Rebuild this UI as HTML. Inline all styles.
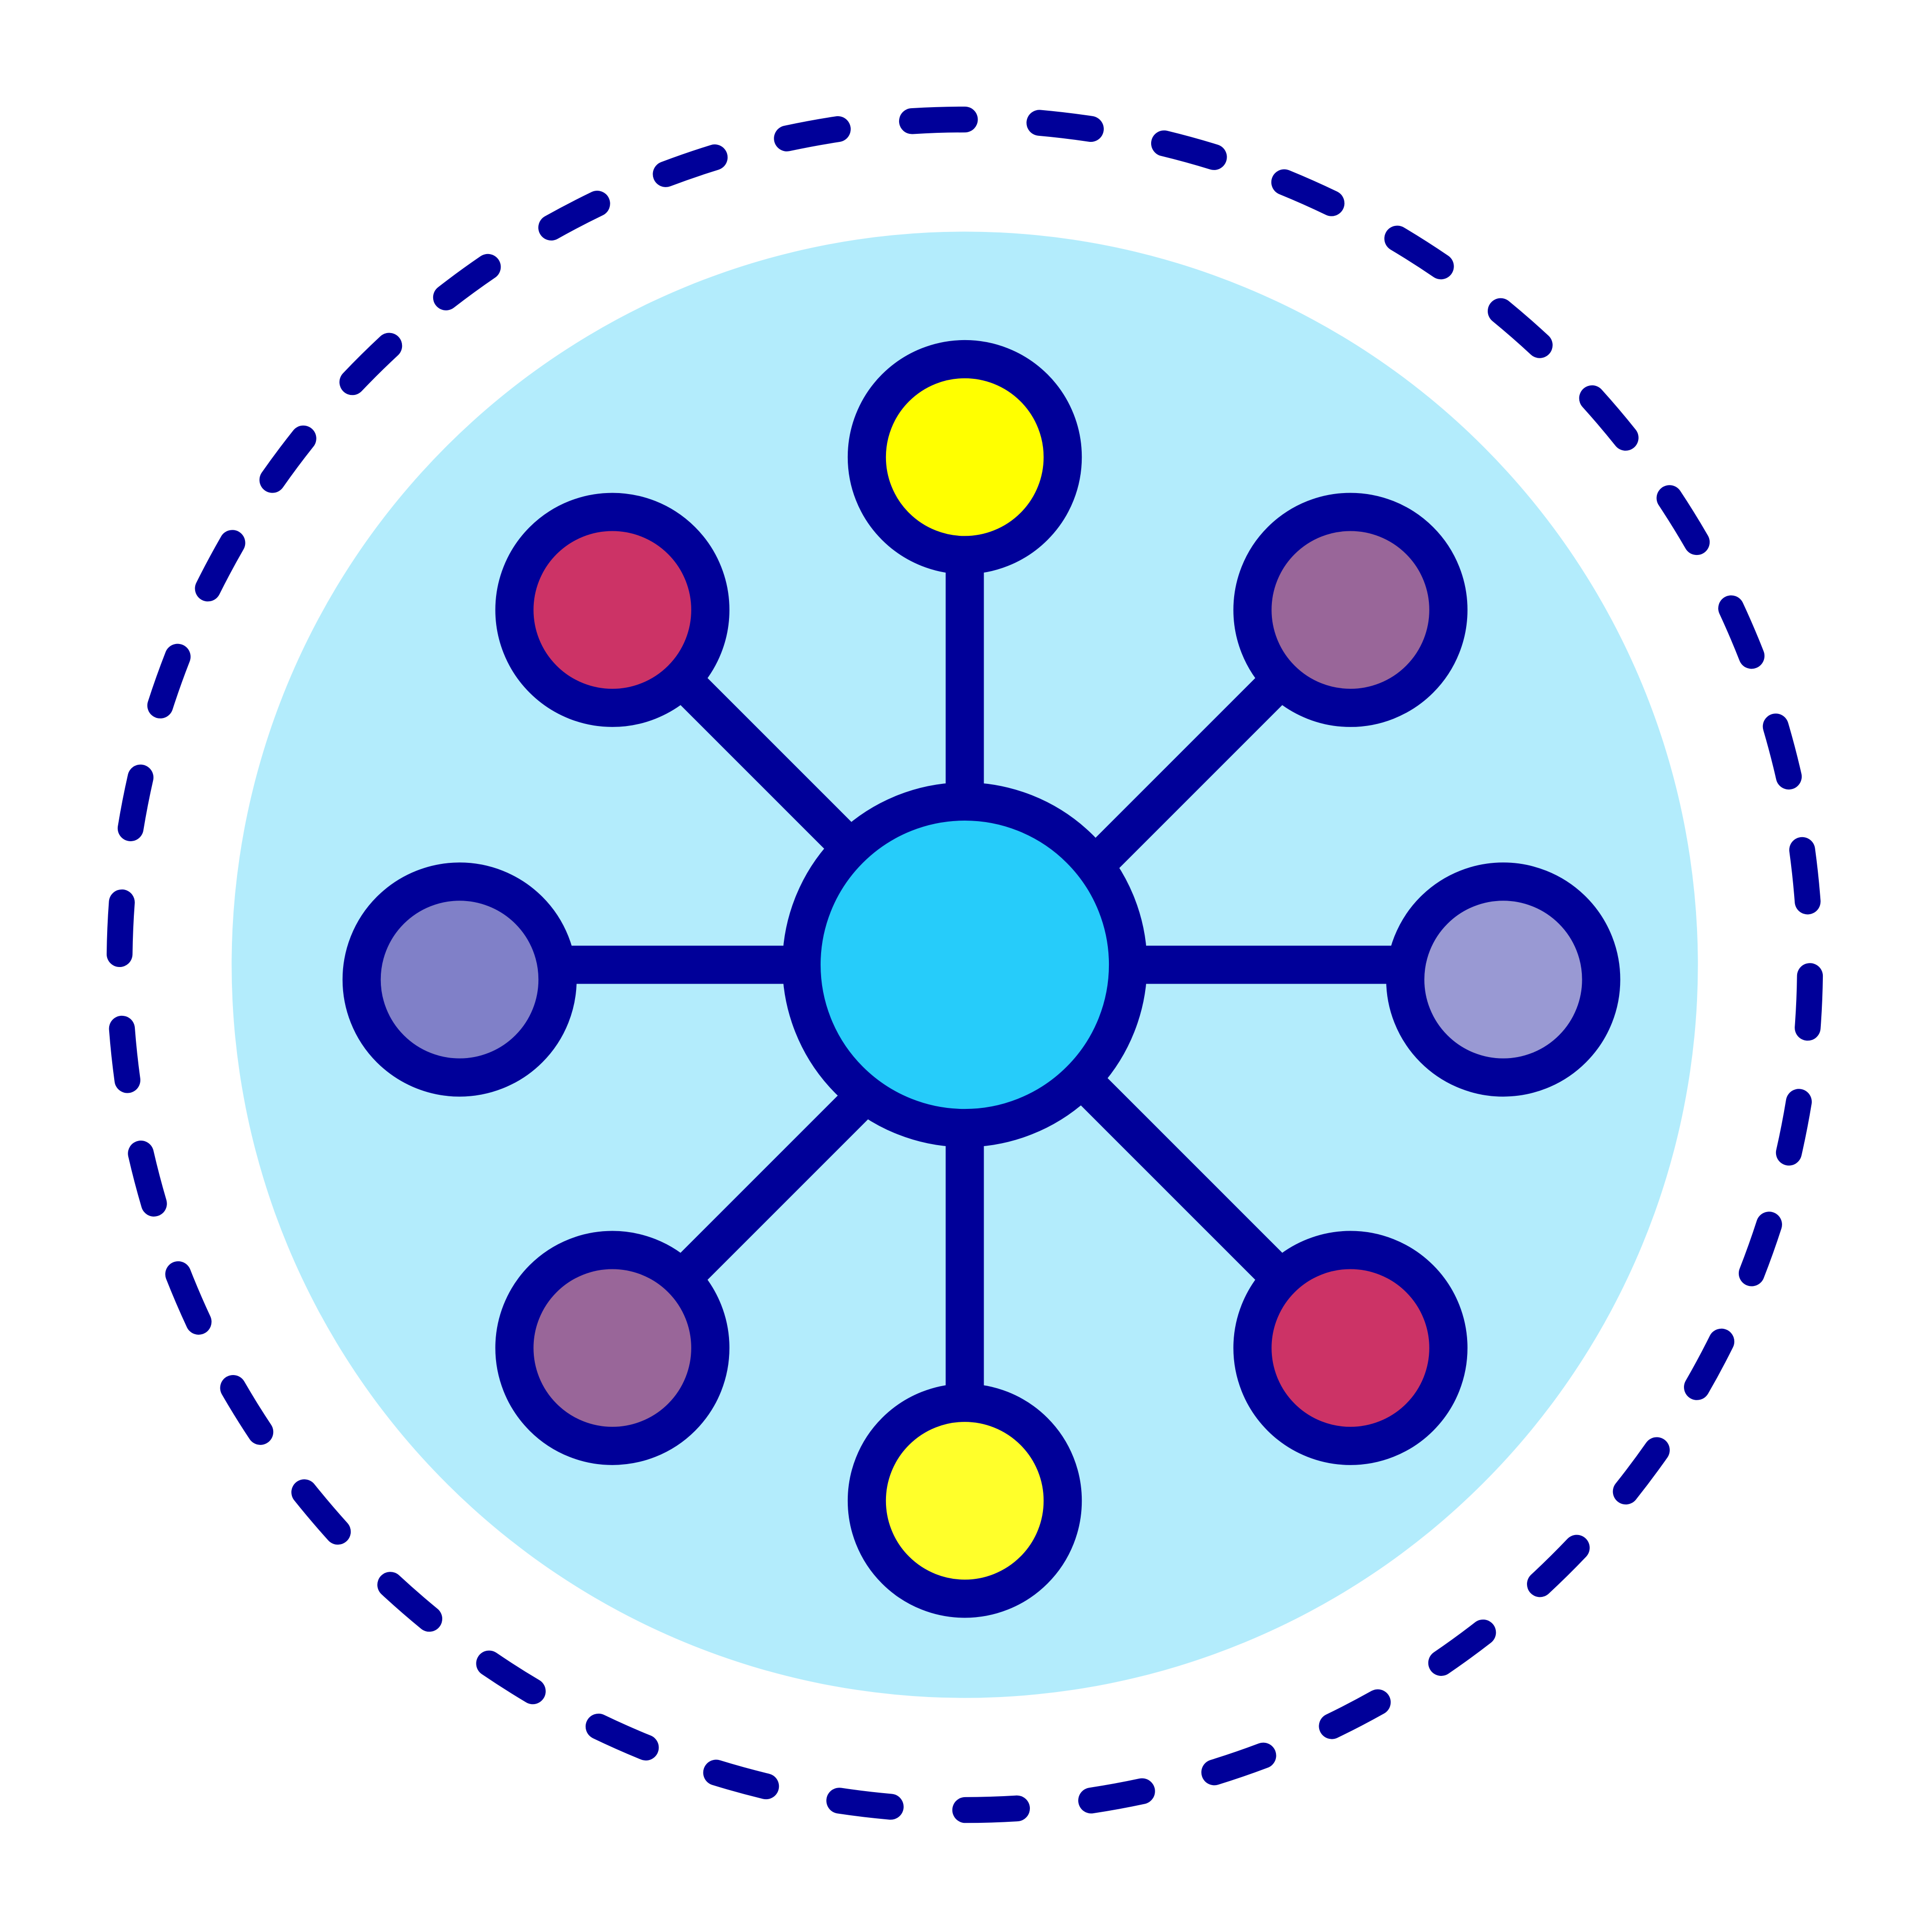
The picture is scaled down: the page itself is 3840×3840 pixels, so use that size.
<!DOCTYPE html>
<html><head><meta charset="utf-8"><style>html,body{margin:0;padding:0;background:#fff}svg{display:block}</style></head>
<body>
<svg width="3840" height="3840" viewBox="0 0 1568 1568" xmlns="http://www.w3.org/2000/svg">
<rect width="1568" height="1568" fill="#fff"/>
<circle cx="783" cy="783" r="595" fill="#b3ecfc"/>
<circle cx="783" cy="783" r="686" fill="none" stroke="#000099" stroke-width="21" stroke-linecap="round" stroke-dasharray="42 60.6" transform="rotate(-93.5 783 783)"/>
<g stroke="#000099" stroke-width="31" fill="none">
<line x1="783" y1="450" x2="783" y2="1140"/>
<line x1="450" y1="783" x2="1140" y2="783"/>
<line x1="497" y1="495" x2="1096" y2="1094"/>
<line x1="1096" y1="495" x2="497" y2="1094"/>
</g>
<circle cx="783" cy="783" r="132.5" fill="#26ccfa" stroke="#000099" stroke-width="31"/>
<g stroke="#000099" stroke-width="31">
<circle cx="783" cy="371" r="79.5" fill="#ffff00"/>
<circle cx="783" cy="1218" r="79.5" fill="#ffff2a"/>
<circle cx="497" cy="495" r="79.5" fill="#cc3366"/>
<circle cx="1096" cy="495" r="79.5" fill="#996699"/>
<circle cx="373" cy="795" r="79.5" fill="#8080c8"/>
<circle cx="1220" cy="795" r="79.5" fill="#9999d3"/>
<circle cx="497" cy="1094" r="79.5" fill="#996699"/>
<circle cx="1096" cy="1094" r="79.5" fill="#cc3366"/>
</g>
</svg>
</body></html>
